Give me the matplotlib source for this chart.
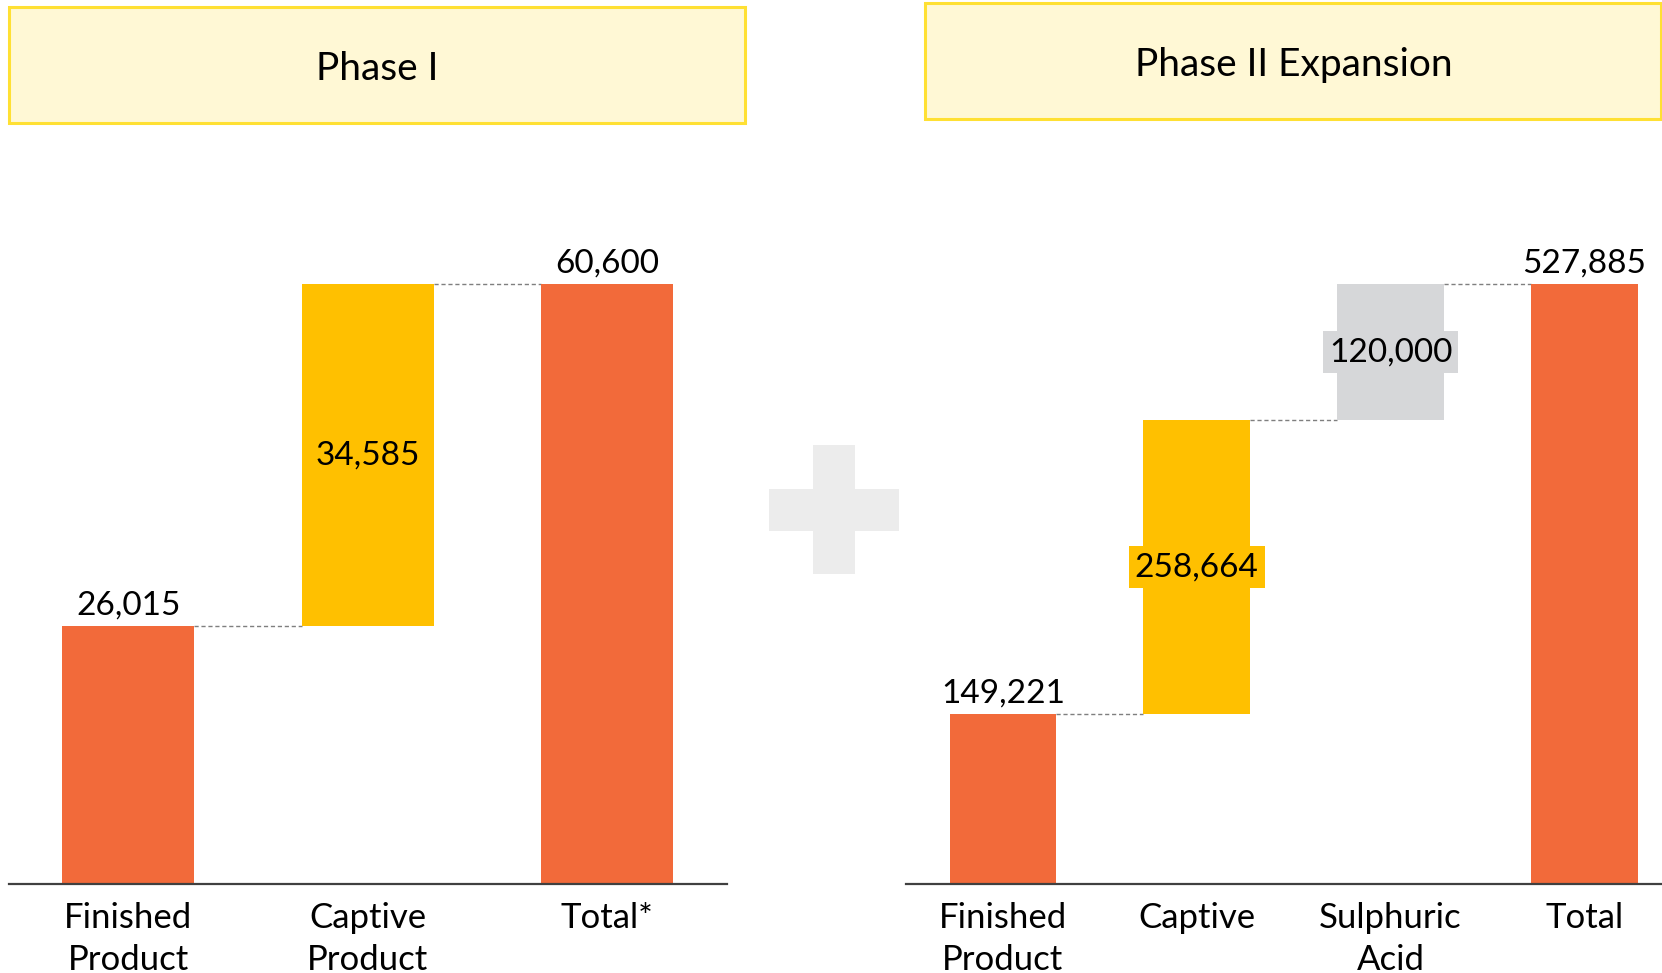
import matplotlib
matplotlib.use("Agg")
import matplotlib.pyplot as plt
from matplotlib.patches import Rectangle

plt.rcParams['font.family'] = ['Lato', 'DejaVu Sans']

# ---- data ----
p1_categories = ["Finished\nProduct", "Captive\nProduct", "Total*"]
p1_values = [26015, 34585, 60600]
p1_kinds = ["total", "delta", "total"]

p2_categories = ["Finished\nProduct", "Captive", "Sulphuric\nAcid", "Total"]
p2_values = [149221, 258664, 120000, 527885]
p2_kinds = ["total", "delta", "delta", "total"]

titles = ["Phase I", "Phase II Expansion"]

ORANGE = "#F26A3A"
YELLOW = "#FFC000"
GREY = "#D6D7D9"
BOX_FACE = "#FFF8D5"
BOX_EDGE = "#FFE033"

W, H = 1662, 973
fig = plt.figure(figsize=(W / 100, H / 100), dpi=100)


def fx(px):
    return px / W


def fy(py):
    return 1 - py / H


FS_VAL = 24
FS_CAT = 25
FS_TITLE = 28


def waterfall(ax, cats, vals, kinds, delta_colors, width):
    bottoms = []
    running = 0
    for v, k in zip(vals, kinds):
        if k == "total":
            bottoms.append(0)
            running = v
        else:
            bottoms.append(running)
            running += v
    tops = [b + v for b, v in zip(bottoms, vals)]
    colors = []
    di = 0
    for k in kinds:
        if k == "total":
            colors.append(ORANGE)
        else:
            colors.append(delta_colors[di])
            di += 1
    x = list(range(len(vals)))
    ax.bar(x, vals, bottom=bottoms, width=width, color=colors, zorder=2)
    # connectors
    for i in range(len(vals) - 1):
        level = tops[i]
        ax.plot([i + width / 2, i + 1 - width / 2], [level, level],
                color="#7F7F7F", lw=1.0, ls=(0, (3, 2)), zorder=1,
                clip_on=False)
    # labels
    for i, (v, k) in enumerate(zip(vals, kinds)):
        txt = f"{v:,}"
        if k == "total":
            ax.annotate(txt, (i, tops[i]), xytext=(0, 4), textcoords="offset points",
                        ha="center", va="bottom", fontsize=FS_VAL, color="black",
                        annotation_clip=False)
        else:
            ax.text(i, bottoms[i] + v / 2, txt, ha="center", va="center",
                    fontsize=FS_VAL, color="black", zorder=3,
                    bbox=dict(boxstyle="square,pad=0.18", fc=colors[i], ec="none"))
    ax.set_xticks(x)
    ax.set_xticklabels(cats, fontsize=FS_CAT, linespacing=1.38)
    ax.tick_params(axis="x", length=0, pad=13)
    ax.set_yticks([])
    for s in ["left", "right", "top"]:
        ax.spines[s].set_visible(False)
    ax.spines["bottom"].set_color("#404040")
    ax.spines["bottom"].set_linewidth(1.6)
    ax.set_ylim(0, max(tops))


base_y = 884
top_y = 284

# left panel
ax1 = fig.add_axes([fx(8.5), fy(base_y), fx(727 - 8.5), (base_y - top_y) / H])
ax1.patch.set_alpha(0)
waterfall(ax1, p1_categories, p1_values, p1_kinds, [YELLOW], 0.55)
ax1.set_xlim(-0.5, 2.5)

# right panel
ax2 = fig.add_axes([fx(906), fy(base_y), fx(1662 - 906), (base_y - top_y) / H])
ax2.patch.set_alpha(0)
waterfall(ax2, p2_categories, p2_values, p2_kinds, [YELLOW, GREY], 0.55)
ax2.set_xlim(-0.5, 3.4)

# title boxes
fig.patches.append(Rectangle((fx(9), fy(123)), fx(745 - 9), (123 - 7) / H,
                             transform=fig.transFigure, fc=BOX_FACE, ec=BOX_EDGE, lw=2.2))
fig.text(fx(377), fy(69), titles[0], ha="center", va="center", fontsize=FS_TITLE)
fig.patches.append(Rectangle((fx(925), fy(119)), fx(1661 - 925), (119 - 3) / H,
                             transform=fig.transFigure, fc=BOX_FACE, ec=BOX_EDGE, lw=2.2))
fig.text(fx(1294), fy(65), titles[1], ha="center", va="center", fontsize=FS_TITLE)

# plus sign
PLUS = "#ECECEC"
fig.patches.append(Rectangle((fx(813), fy(574)), fx(855 - 813), (574 - 445) / H,
                             transform=fig.transFigure, fc=PLUS, ec="none"))
fig.patches.append(Rectangle((fx(769), fy(531)), fx(899 - 769), (531 - 489) / H,
                             transform=fig.transFigure, fc=PLUS, ec="none"))

fig.savefig("out.png", dpi=100)
